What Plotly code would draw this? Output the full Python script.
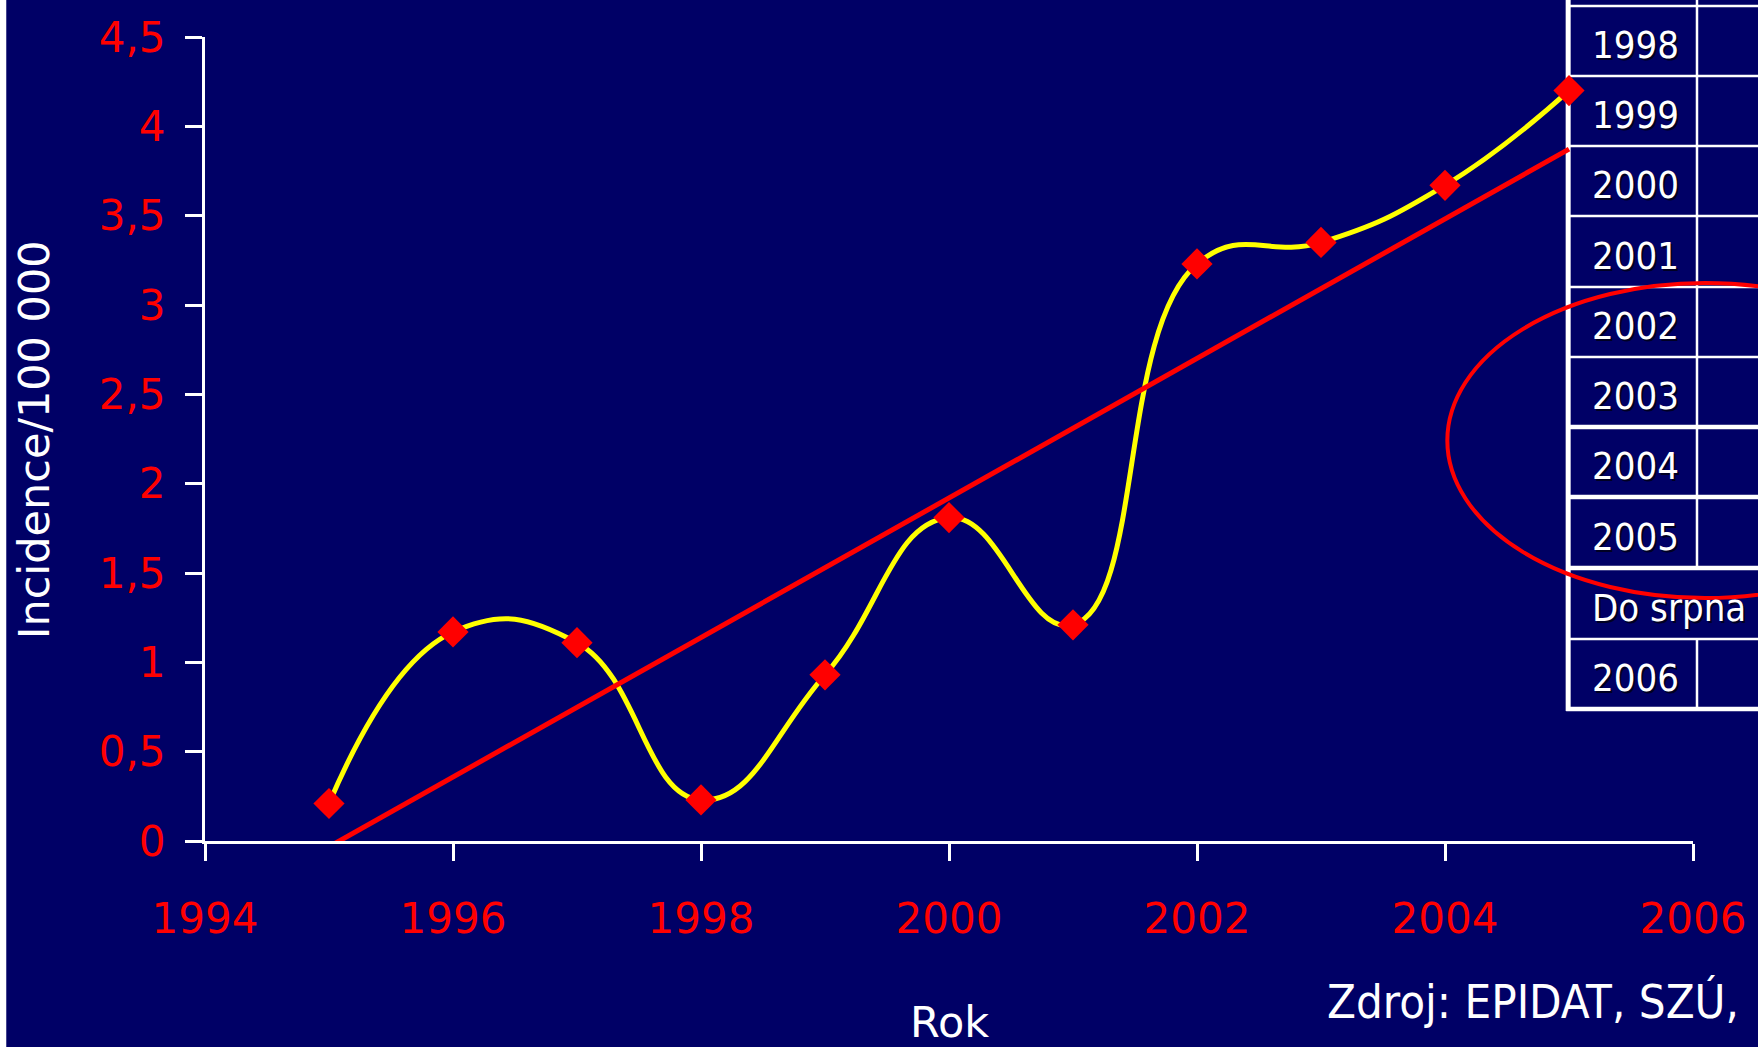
import numpy as np
import plotly.graph_objects as go

# Incidence per 100 000 inhabitants by year
years = [1995, 1996, 1997, 1998, 1999, 2000, 2001, 2002, 2003, 2004, 2005]
incidence = [0.21, 1.17, 1.11, 0.23, 0.93, 1.81, 1.21, 3.23, 3.35, 3.67, 4.20]

# Row labels of the side table
table_rows = ["1998", "1999", "2000", "2001", "2002", "2003", "2004", "2005", "Do srpna", "2006"]

y_ticks = [0, 0.5, 1, 1.5, 2, 2.5, 3, 3.5, 4, 4.5]
x_ticks = [1994, 1996, 1998, 2000, 2002, 2004, 2006]

NAVY = "#000066"
RED = "#ff0000"
YELLOW = "#ffff00"
FONT = "DejaVu Sans"
FONT_C = "DejaVu Sans Condensed, DejaVu Sans"

W, H = 1758, 1047
L, R, T, B = 205, 63, 37, 206
PW, PH = W - L - R, H - T - B


def fx(px):
    return (px - L) / PW


def fy(py):
    return (H - B - py) / PH


# Least-squares linear trend
slope, intercept = np.polyfit(years, incidence, 1)
trend_x = [years[0], years[-1]]
trend_y = [slope * x + intercept for x in trend_x]

fig = go.Figure()
fig.add_trace(go.Scatter(
    x=years, y=incidence, mode="lines",
    line=dict(color=YELLOW, width=5, shape="spline", smoothing=1.3),
    hoverinfo="skip", showlegend=False,
))
fig.add_trace(go.Scatter(
    x=trend_x, y=trend_y, mode="lines",
    line=dict(color=RED, width=5),
    hoverinfo="skip", showlegend=False,
))
fig.add_trace(go.Scatter(
    x=years, y=incidence, mode="markers",
    marker=dict(symbol="diamond", size=24, color=RED, line=dict(width=0)),
    showlegend=False,
))

shapes = []
annotations = []

# white strip at the left edge
shapes.append(dict(type="rect", xref="paper", yref="paper", layer="below",
                   x0=fx(-5), x1=fx(6), y0=fy(-5), y1=fy(H + 5),
                   fillcolor="white", line=dict(width=0)))

# side table grid
row_edges = [6, 76, 146, 216, 287, 357, 427, 497, 568, 639, 709]
thick = {427, 497, 568, 709}
tx0, tcol, tx1 = 1570, 1699, W + 10
for ye in row_edges:
    shapes.append(dict(type="line", xref="paper", yref="paper", layer="below",
                       x0=fx(tx0 - 2), x1=fx(tx1), y0=fy(ye), y1=fy(ye),
                       line=dict(color="white", width=4.5 if ye in thick else 2.5)))
shapes.append(dict(type="line", xref="paper", yref="paper", layer="below",
                   x0=fx(tx0), x1=fx(tx0), y0=fy(-5), y1=fy(711),
                   line=dict(color="white", width=5)))
for ya, yb in [(-5, 568), (639, 709)]:
    shapes.append(dict(type="line", xref="paper", yref="paper", layer="below",
                       x0=fx(tcol), x1=fx(tcol), y0=fy(ya), y1=fy(yb),
                       line=dict(color="white", width=2.5)))

for i, lab in enumerate(table_rows):
    yc = (row_edges[i] + row_edges[i + 1]) / 2 + 4
    for dx, dy, col in [(2, -2, "#000022"), (0, 0, "white")]:
        annotations.append(dict(
            text=lab, xref="paper", yref="paper", x=fx(1592), y=fy(yc),
            xanchor="left", yanchor="middle", showarrow=False,
            xshift=dx, yshift=dy,
            font=dict(family=FONT_C, size=38, color=col)))

# highlight ellipse over the table
shapes.append(dict(type="circle", xref="paper", yref="paper", layer="above",
                   x0=fx(1449), x1=fx(1965), y0=fy(598), y1=fy(283),
                   line=dict(color=RED, width=4)))

# axis titles and source note
annotations.append(dict(text="Incidence/100 000", xref="paper", yref="paper",
                        x=fx(34), y=fy(440), textangle=-90, showarrow=False,
                        xanchor="center", yanchor="middle",
                        font=dict(family=FONT, size=43, color="white")))
annotations.append(dict(text="Rok", xref="paper", yref="paper",
                        x=fx(950), y=fy(1022), showarrow=False,
                        xanchor="center", yanchor="middle",
                        font=dict(family=FONT, size=43, color="white")))
annotations.append(dict(text="Zdroj: EPIDAT, SZÚ,", xref="paper", yref="paper",
                        x=fx(1327), y=fy(1001), showarrow=False,
                        xanchor="left", yanchor="middle",
                        font=dict(family=FONT_C, size=47, color="white")))

fig.update_layout(
    width=W, height=H, autosize=False,
    margin=dict(l=L, r=R, t=T, b=B, pad=0),
    paper_bgcolor=NAVY, plot_bgcolor=NAVY,
    separators=", ",
    shapes=shapes, annotations=annotations,
    showlegend=False,
    xaxis=dict(
        range=[1994, 2006], tickmode="array", tickvals=x_ticks,
        ticktext=[str(v) for v in x_ticks],
        showgrid=False, zeroline=False,
        showline=True, linecolor="white", linewidth=3,
        ticks="outside", ticklen=17, tickwidth=3, tickcolor="white",
        tickfont=dict(family=FONT, size=42, color=RED),
        ticklabelstandoff=22,
    ),
    yaxis=dict(
        range=[0, 4.5], tickmode="array", tickvals=y_ticks,
        showgrid=False, zeroline=False,
        showline=True, linecolor="white", linewidth=3,
        ticks="outside", ticklen=17, tickwidth=3, tickcolor="white",
        tickfont=dict(family=FONT, size=42, color=RED),
        ticklabelstandoff=11,
    ),
)

fig.write_html("out.html", config={"displayModeBar": False})
